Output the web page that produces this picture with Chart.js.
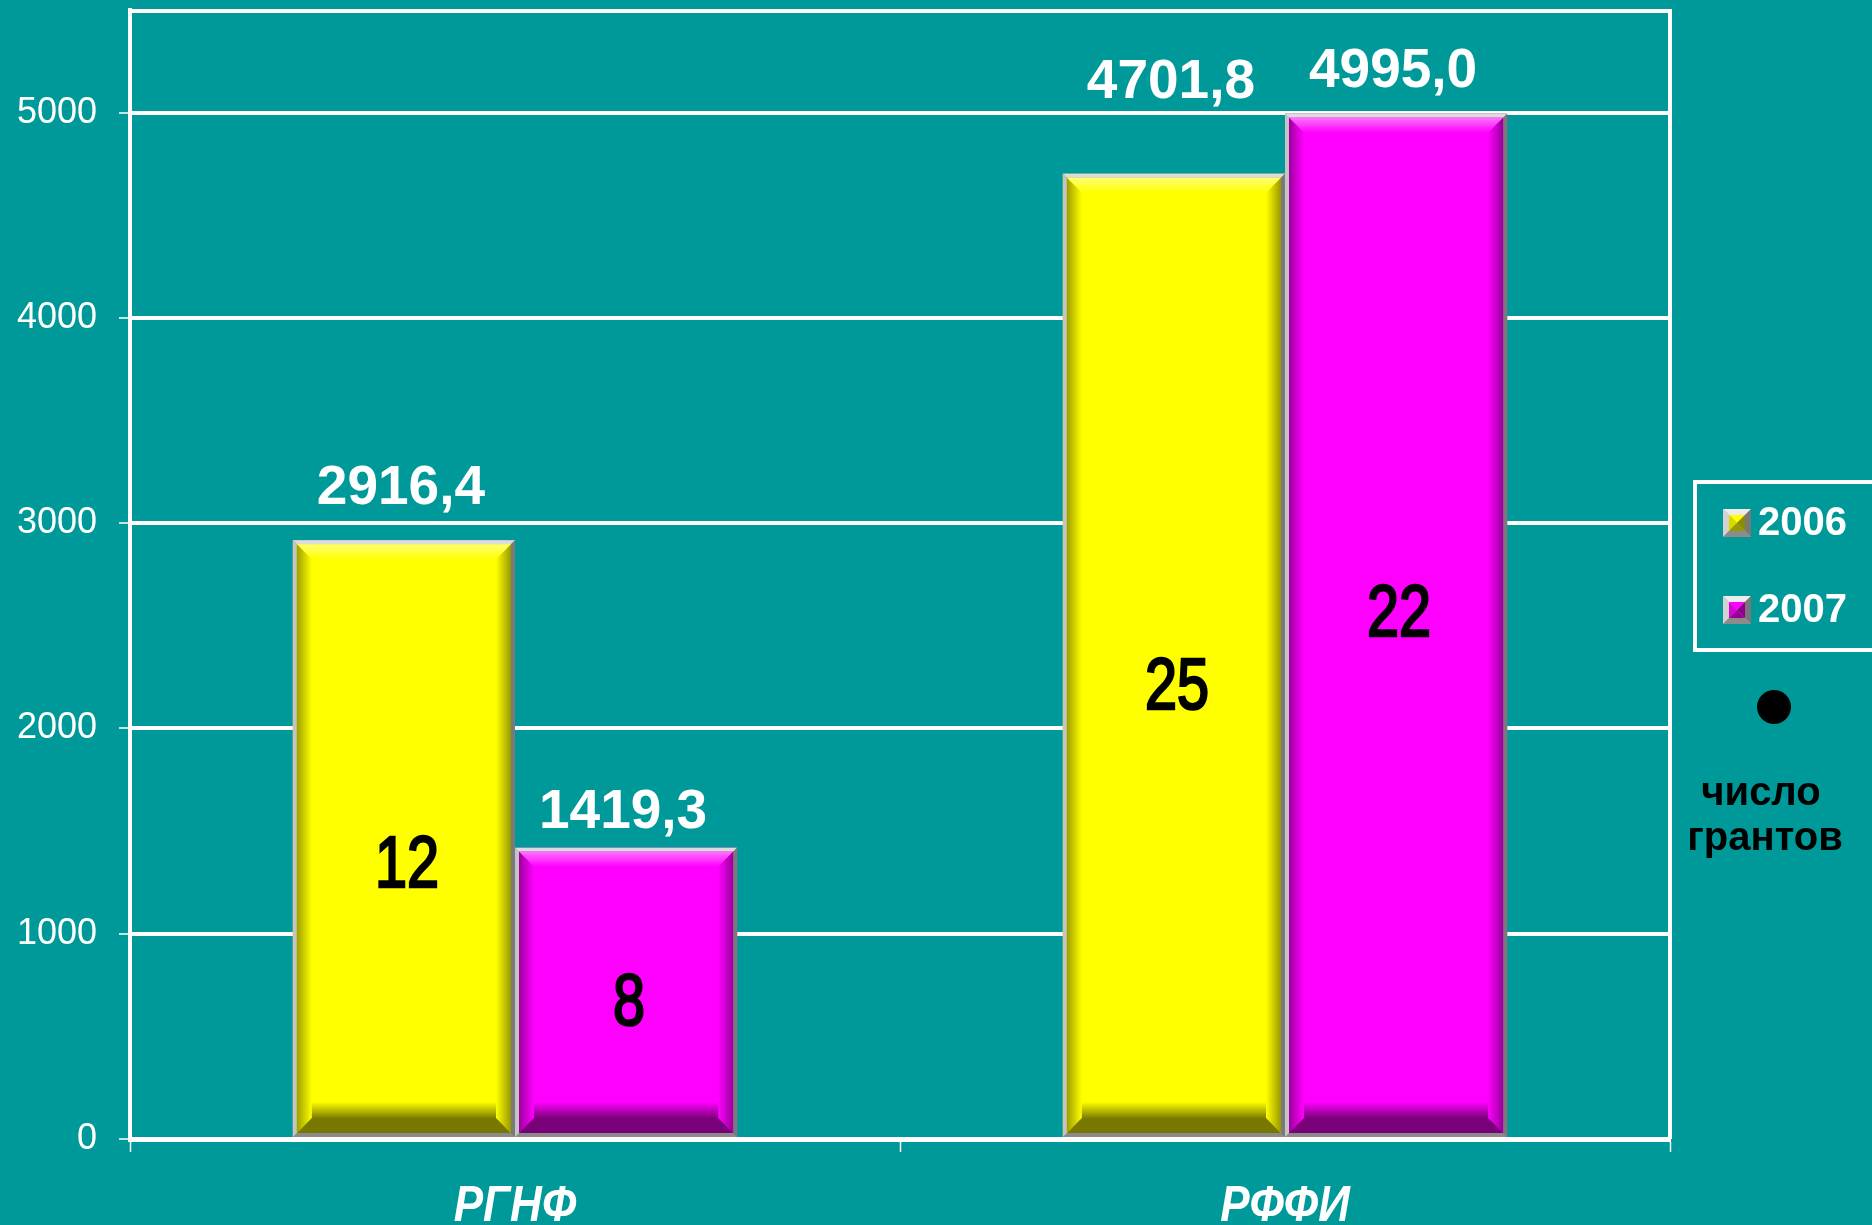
<!DOCTYPE html>
<html>
<head>
<meta charset="utf-8">
<script src="https://cdn.jsdelivr.net/npm/chart.js@4.4.1/dist/chart.umd.min.js"></script>
<style>
  html, body { margin: 0; padding: 0; background: #009999; overflow: hidden; }
  #contenedor { width: 1872px; height: 1225px; }
</style>
</head>
<body>
<div id="contenedor"><canvas id="grafico" width="1872" height="1225"></canvas></div>
<script>
// Datos del gráfico
const categorias = ['РГНФ', 'РФФИ'];
const anios = ['2006', '2007'];
const montos2006 = [2916.4, 4701.8];
const montos2007 = [1419.3, 4995.0];
const grantos2006 = [12, 25];
const grantos2007 = [8, 22];
const ticksY = [0, 1000, 2000, 3000, 4000, 5000];
const notaTexto = ['число', 'грантов'];

// estilos (no son datos)
const FUENTE = '"Liberation Sans", Arial, sans-serif';
const colores = ['#ffff00', '#ff00ff'];
const subirEtiqueta = [[36, 20], [76, 27]];   // px por encima de la barra
const moverConteo = [[28, 13], [34, -9]];      // px desde el centro de la barra

function mezclar(hex, k, con) {
  const n = parseInt(hex.slice(1), 16);
  const c = [(n >> 16) & 255, (n >> 8) & 255, n & 255];
  const o = con === undefined ? 0 : con;
  return 'rgb(' + c.map(v => Math.round(v * k + o * (1 - k))).join(',') + ')';
}

function poligono(ctx, pts, relleno) {
  ctx.beginPath();
  ctx.moveTo(pts[0][0], pts[0][1]);
  for (let i = 1; i < pts.length; i++) ctx.lineTo(pts[i][0], pts[i][1]);
  ctx.closePath();
  ctx.fillStyle = relleno;
  ctx.fill();
}

// barra con efecto biselado
function bisel(ctx, l, t, r, b, col) {
  const f = 4, bv = 15;
  ctx.fillStyle = '#8a8a8a'; ctx.fillRect(l, t, r - l, b - t);
  poligono(ctx, [[l, t], [r, t], [r - f, t + f], [l + f, t + f]], '#dcdcdc');
  poligono(ctx, [[l, t], [l + f, t + f], [l + f, b - f], [l, b]], '#c4c4c4');
  poligono(ctx, [[r, t], [r, b], [r - f, b - f], [r - f, t + f]], '#7a7a7a');
  const L = l + f, T = t + f, R = r - f, B = b - f;
  ctx.fillStyle = col; ctx.fillRect(L, T, R - L, B - T);

  let g = ctx.createLinearGradient(0, T, 0, T + bv);
  g.addColorStop(0, mezclar(col, 0.55, 255));
  g.addColorStop(1, col);
  poligono(ctx, [[L, T], [R, T], [R - bv, T + bv], [L + bv, T + bv]], g);

  g = ctx.createLinearGradient(L, 0, L + bv, 0);
  g.addColorStop(0, mezclar(col, 0.62));
  g.addColorStop(1, col);
  poligono(ctx, [[L, T], [L + bv, T + bv], [L + bv, B - bv], [L, B]], g);

  g = ctx.createLinearGradient(R - bv, 0, R, 0);
  g.addColorStop(0, col);
  g.addColorStop(1, mezclar(col, 0.6));
  poligono(ctx, [[R, T], [R, B], [R - bv, B - bv], [R - bv, T + bv]], g);

  // sombra de abajo
  g = ctx.createLinearGradient(0, B - bv - 16, 0, B - bv);
  g.addColorStop(0, 'rgba(0,0,0,0)');
  g.addColorStop(1, 'rgba(0,0,0,0.5)');
  ctx.fillStyle = g;
  ctx.fillRect(L + bv, B - bv - 16, R - L - 2 * bv, 16);
  poligono(ctx, [[L, B], [R, B], [R - bv, B - bv], [L + bv, B - bv]], mezclar(col, 0.47));
}

function iconoLeyenda(ctx, x, y, s, col) {
  const f = 6;
  ctx.fillStyle = '#a0a0a0'; ctx.fillRect(x, y, s, s);
  poligono(ctx, [[x, y], [x + s, y], [x + s - f, y + f], [x + f, y + f]], '#ececec');
  poligono(ctx, [[x, y], [x + f, y + f], [x + f, y + s - f], [x, y + s]], '#d2d2d2');
  poligono(ctx, [[x + s, y], [x + s, y + s], [x + s - f, y + s - f], [x + s - f, y + f]], '#787878');
  poligono(ctx, [[x, y + s], [x + s, y + s], [x + s - f, y + s - f], [x + f, y + s - f]], '#8c8c8c');
  const ix = x + f, iy = y + f, is = s - 2 * f, cx = ix + is / 2, cy = iy + is / 2;
  poligono(ctx, [[ix, iy], [ix + is, iy], [cx, cy]], col);
  poligono(ctx, [[ix, iy], [cx, cy], [ix, iy + is]], mezclar(col, 0.85));
  poligono(ctx, [[ix + is, iy], [ix + is, iy + is], [cx, cy]], mezclar(col, 0.55));
  poligono(ctx, [[ix, iy + is], [ix + is, iy + is], [cx, cy]], mezclar(col, 0.6));
}

function textoEstirado(ctx, txt, x, y, sx, trazo) {
  ctx.save();
  ctx.translate(x, y);
  ctx.scale(sx, 1);
  ctx.fillText(txt, 0, 0);
  if (trazo) {
    ctx.lineWidth = trazo;
    ctx.strokeStyle = ctx.fillStyle;
    ctx.strokeText(txt, 0, 0);
  }
  ctx.restore();
}

const pluginBisel = {
  id: 'bisel',
  beforeDraw(chart) {
    const ctx = chart.ctx;
    ctx.save();
    ctx.fillStyle = '#009999';
    ctx.fillRect(0, 0, chart.width, chart.height);
    ctx.restore();
  },
  beforeDatasetsDraw(chart) {
    // marco de arriba y derecha
    const { ctx, chartArea: a } = chart;
    ctx.save();
    ctx.strokeStyle = '#ffffff';
    ctx.lineWidth = 4;
    ctx.beginPath();
    ctx.moveTo(a.left, a.top + 1);
    ctx.lineTo(a.right, a.top + 1);
    ctx.lineTo(a.right, a.bottom);
    ctx.stroke();
    ctx.restore();
  },
  afterDatasetsDraw(chart) {
    const ctx = chart.ctx;
    ctx.save();
    chart.data.datasets.forEach((ds, d) => {
      chart.getDatasetMeta(d).data.forEach((bar, i) => {
        const l = bar.x - bar.width / 2, r = bar.x + bar.width / 2;
        bisel(ctx, l, bar.y, r, bar.base, colores[d]);
      });
    });
    chart.data.datasets.forEach((ds, d) => {
      chart.getDatasetMeta(d).data.forEach((bar, i) => {
        // monto encima
        ctx.fillStyle = '#ffffff';
        ctx.font = 'bold 55px ' + FUENTE;
        ctx.textAlign = 'center';
        ctx.textBaseline = 'alphabetic';
        ctx.fillText(ds.data[i].toFixed(1).replace('.', ','), bar.x - 3, bar.y - subirEtiqueta[i][d]);
        // numero de grantos
        ctx.fillStyle = '#000000';
        ctx.font = '72px ' + FUENTE;
        ctx.textBaseline = 'middle';
        textoEstirado(ctx, String(ds.conteo[i]), bar.x + 3, (bar.y + bar.base) / 2 + moverConteo[i][d], 0.8, 2.6);
      });
    });
    ctx.restore();
  },
  afterDraw(chart) {
    const ctx = chart.ctx;
    const x = chart.scales.x;
    ctx.save();
    // categorias
    ctx.fillStyle = '#ffffff';
    ctx.font = 'italic bold 50px ' + FUENTE;
    ctx.textAlign = 'center';
    ctx.textBaseline = 'alphabetic';
    categorias.forEach((c, i) => textoEstirado(ctx, c, x.getPixelForValue(i), 1221, 0.88));

    // leyenda
    ctx.strokeStyle = '#ffffff';
    ctx.lineWidth = 4;
    ctx.strokeRect(1695, 482, 200, 168);
    const filas = [523, 610];
    chart.data.datasets.forEach((ds, d) => {
      iconoLeyenda(ctx, 1723, filas[d] - 14, 28, colores[d]);
      ctx.fillStyle = '#ffffff';
      ctx.font = 'bold 40px ' + FUENTE;
      ctx.textAlign = 'left';
      ctx.textBaseline = 'middle';
      ctx.fillText(ds.label, 1758, filas[d] + 1);
    });

    // punto y nota
    ctx.fillStyle = '#000000';
    ctx.beginPath();
    ctx.arc(1774, 707, 17, 0, Math.PI * 2);
    ctx.fill();
    ctx.font = 'bold 40px ' + FUENTE;
    ctx.textAlign = 'center';
    ctx.textBaseline = 'alphabetic';
    ctx.fillText(notaTexto[0], 1761, 805);
    ctx.fillText(notaTexto[1], 1765, 850);
    ctx.restore();
  }
};

const ctx = document.getElementById('grafico').getContext('2d');
new Chart(ctx, {
  type: 'bar',
  data: {
    labels: categorias,
    datasets: [
      { label: anios[0], data: montos2006, conteo: grantos2006, backgroundColor: colores[0] },
      { label: anios[1], data: montos2007, conteo: grantos2007, backgroundColor: colores[1] }
    ]
  },
  options: {
    responsive: false,
    animation: false,
    devicePixelRatio: 1,
    layout: { padding: { top: 10, right: 202, left: 0, bottom: 0 } },
    datasets: { bar: { categoryPercentage: 0.577, barPercentage: 1 } },
    plugins: { legend: { display: false }, tooltip: { enabled: false } },
    scales: {
      x: {
        grid: { drawOnChartArea: false, offset: true, tickLength: 13, tickWidth: 1.5, tickColor: '#ffffff' },
        border: { color: '#ffffff', width: 5 },
        ticks: { display: false },
        afterFit: s => { s.height = 86; s.paddingLeft = 0; s.paddingRight = 0; }
      },
      y: {
        min: 0,
        max: 5500,
        afterBuildTicks: s => { s.ticks = ticksY.map(v => ({ value: v })); },
        grid: { color: '#ffffff', lineWidth: 4, tickLength: 11, tickWidth: 1.5, tickColor: '#ffffff' },
        border: { color: '#ffffff', width: 4 },
        ticks: { color: '#ffffff', font: { family: FUENTE, size: 36 }, padding: 22, callback: v => String(v) },
        afterFit: s => { s.width = 130; s.paddingTop = 0; s.paddingBottom = 0; }
      }
    }
  },
  plugins: [pluginBisel]
});
</script>
</body>
</html>
